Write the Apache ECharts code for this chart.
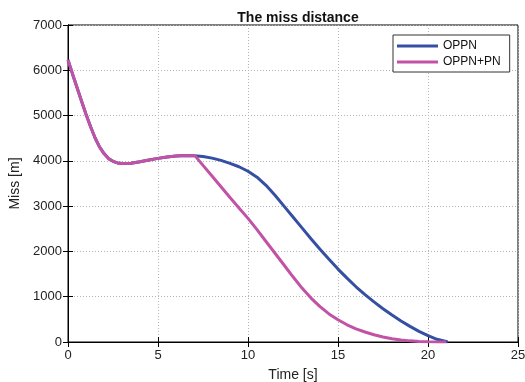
<!DOCTYPE html>
<html><head><meta charset="utf-8">
<script src="https://cdn.jsdelivr.net/npm/echarts@6/dist/echarts.min.js"></script>
<style>html,body{margin:0;padding:0;background:#fff}#c{width:525px;height:382px}</style>
</head><body><div id="c"></div>
<script>
var titleText = 'The miss distance';
var xName = 'Time [s]';
var yName = 'Miss [m]';
var seriesNames = ['OPPN', 'OPPN+PN'];
var xTicks = [0, 5, 10, 15, 20, 25];
var yTicks = [0, 1000, 2000, 3000, 4000, 5000, 6000, 7000];

var tOPPN = [0,0.25,0.5,0.75,1,1.25,1.5,1.75,2,2.25,2.5,2.75,3,3.5,4,4.5,5,5.5,6,6.5,7,7.5,8,8.5,9,9.5,10,10.5,11,11.5,12,12.5,13,13.5,14,14.5,15,15.5,16,16.5,17,17.5,18,18.5,19,19.5,20,20.5,21,21.1];
var yOPPN = [6230,5920,5620,5320,5030,4760,4510,4310,4160,4050,3990,3955,3940,3945,3980,4020,4055,4085,4105,4118,4115,4095,4060,4010,3945,3870,3770,3640,3460,3240,3000,2760,2520,2280,2050,1825,1610,1410,1220,1045,885,735,595,465,345,235,140,60,10,0];

var tPN = [0,0.25,0.5,0.75,1,1.25,1.5,1.75,2,2.25,2.5,2.75,3,3.5,4,4.5,5,5.5,6,6.5,7.05,7.5,8,8.5,9,9.5,10,10.5,11,11.5,12,12.5,13,13.5,14,14.5,15,15.5,16,16.5,17,17.5,18,18.5,19,19.5,20,20.5,21];
var yPN = [6230,5920,5620,5320,5030,4760,4510,4310,4160,4050,3990,3955,3940,3945,3980,4020,4055,4085,4105,4118,4115,3900,3665,3430,3190,2960,2730,2480,2220,1960,1700,1440,1190,970,780,620,490,380,290,220,160,110,70,45,25,12,5,1,0];

function pairs(t, y) { return t.map(function (v, i) { return [v, y[i]]; }); }

var font = 'Liberation Sans, Arial, sans-serif';
var chart = echarts.init(document.getElementById('c'), null, {renderer: 'canvas'});
var gridSplit = {show: true, lineStyle: {color: '#b4b4b4', type: [1, 2], width: 1}};
chart.setOption({
  animation: false,
  backgroundColor: '#fff',
  title: {text: titleText, left: 293, textAlign: 'center', top: 6,
    textStyle: {fontFamily: font, fontSize: 14, fontWeight: 'bold', color: '#111'}},
  legend: {
    orient: 'vertical', left: 393, top: 35,
    padding: [4, 9, 3, 4], itemGap: 2,
    borderColor: '#333', borderWidth: 1, backgroundColor: '#fff',
    icon: 'rect', itemWidth: 41, itemHeight: 3,
    textStyle: {fontFamily: font, fontSize: 12, color: '#111', lineHeight: 14},
    data: seriesNames
  },
  grid: {left: 68, right: 7, top: 25, bottom: 40, show: true, borderColor: '#000', borderWidth: 1,
    containLabel: false, outerBoundsMode: 'none'},
  xAxis: [{
    type: 'value', min: xTicks[0], max: xTicks[xTicks.length - 1], interval: 5,
    name: xName, nameLocation: 'middle', nameGap: 26,
    nameTextStyle: {fontFamily: font, fontSize: 14, color: '#222'},
    axisLine: {show: true, lineStyle: {color: '#000'}},
    axisTick: {show: true, inside: true, length: 5, lineStyle: {color: '#000'}},
    axisLabel: {fontFamily: font, fontSize: 13, color: '#222', margin: 7, formatter: function (v) { return String(v); }},
    splitLine: gridSplit
  }, {
    type: 'value', position: 'top', min: 0, max: 25, interval: 5,
    axisLine: {show: true, lineStyle: {color: '#000'}},
    axisTick: {show: true, inside: true, length: 5, lineStyle: {color: '#000'}},
    axisLabel: {show: false}, splitLine: {show: false}
  }],
  yAxis: [{
    type: 'value', min: yTicks[0], max: yTicks[yTicks.length - 1], interval: 1000,
    name: yName, nameLocation: 'middle', nameGap: 34,
    nameTextStyle: {fontFamily: font, fontSize: 14, color: '#222'},
    axisLine: {show: true, lineStyle: {color: '#000'}},
    axisTick: {show: true, inside: true, length: 5, lineStyle: {color: '#000'}},
    axisLabel: {fontFamily: font, fontSize: 13, color: '#222', margin: 6, formatter: function (v) { return String(v); }},
    splitLine: gridSplit
  }, {
    type: 'value', position: 'right', min: 0, max: 7000, interval: 1000,
    axisLine: {show: true, lineStyle: {color: '#000'}},
    axisTick: {show: true, inside: true, length: 5, lineStyle: {color: '#000'}},
    axisLabel: {show: false}, splitLine: {show: false}
  }],
  series: [{
    name: seriesNames[0], type: 'line', showSymbol: false, smooth: false,
    data: pairs(tOPPN, yOPPN), color: '#3550a3',
    lineStyle: {width: 3, color: '#3550a3'}, z: 2
  }, {
    name: seriesNames[1], type: 'line', showSymbol: false, smooth: false,
    data: pairs(tPN, yPN), color: '#c152a5',
    lineStyle: {width: 3, color: '#c152a5'}, z: 3
  }]
});
</script></body></html>
